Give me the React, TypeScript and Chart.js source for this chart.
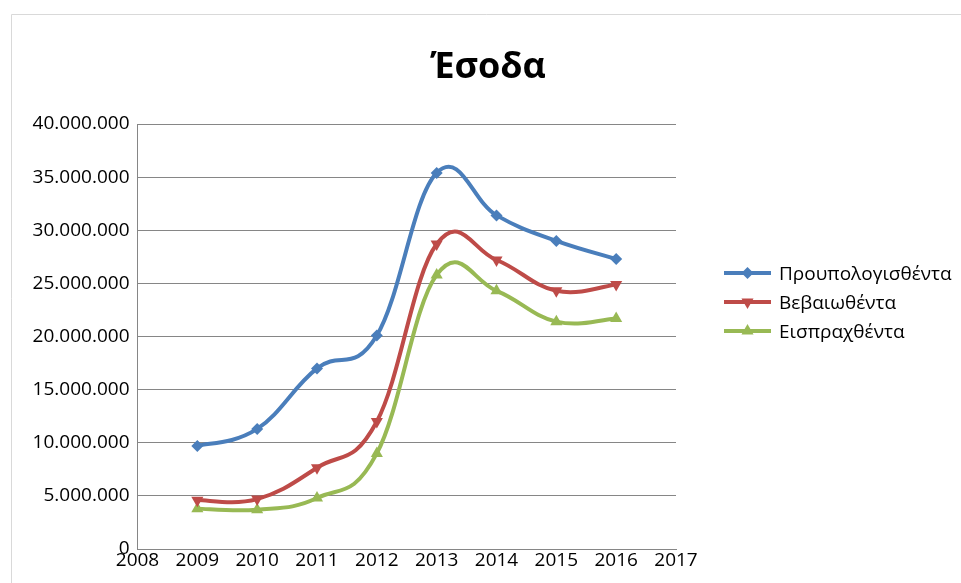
import React, { useEffect, useRef } from "react";
import { Chart, registerables } from "chart.js";

Chart.register(...registerables);

const title = "Έσοδα";
const years = [2009, 2010, 2011, 2012, 2013, 2014, 2015, 2016];
const seriesNames = ["Προυπολογισθέντα", "Βεβαιωθέντα", "Εισπραχθέντα"];
const budgeted = [9700000, 11300000, 17000000, 20100000, 35400000, 31400000, 29000000, 27300000];
const certified = [4600000, 4700000, 7650000, 12000000, 28700000, 27200000, 24300000, 24900000];
const collected = [3800000, 3700000, 4800000, 9000000, 25800000, 24300000, 21400000, 21700000];
const xMin = 2008;
const xMax = 2017;
const yMin = 0;
const yMax = 40000000;
const yStep = 5000000;

const colors = ["#4A7EBB", "#BE4B48", "#98B954"];
const styles = ["rectRot", "triangle", "triangle"];
const rotations = [0, 180, 0];
const radii = [6, 7, 7];
const SMOOTH = 0.2;

const FONT = "'Open Sans', 'Noto Sans', 'DejaVu Sans', sans-serif";

function fmt(v: number): string {
  return String(Math.round(v)).replace(/\B(?=(\d{3})+(?!\d))/g, ".");
}

function drawMarker(ctx: CanvasRenderingContext2D, kind: number, x: number, y: number, color: string) {
  ctx.save();
  ctx.fillStyle = color;
  ctx.beginPath();
  if (kind === 0) {
    const r = 6;
    ctx.moveTo(x, y - r);
    ctx.lineTo(x + r, y);
    ctx.lineTo(x, y + r);
    ctx.lineTo(x - r, y);
  } else {
    const r = 7;
    const dir = kind === 1 ? 1 : -1;
    ctx.moveTo(x, y + dir * r);
    ctx.lineTo(x + r * Math.sin(Math.PI / 3), y - dir * r * 0.5);
    ctx.lineTo(x - r * Math.sin(Math.PI / 3), y - dir * r * 0.5);
  }
  ctx.closePath();
  ctx.fill();
  ctx.restore();
}

// Excel-like smoothing: uniform Catmull-Rom style control points
const smoothPlugin = {
  id: "excelSmooth",
  beforeDatasetsDraw(chart: any) {
    chart.data.datasets.forEach((_: any, di: number) => {
      const meta = chart.getDatasetMeta(di);
      const pts = meta.data;
      const n = pts.length;
      for (let i = 0; i < n; i++) {
        const p = pts[i];
        const prev = pts[Math.max(0, i - 1)];
        const next = pts[Math.min(n - 1, i + 1)];
        const dx = next.x - prev.x;
        const dy = next.y - prev.y;
        p.cp1x = p.x - SMOOTH * dx;
        p.cp1y = p.y - SMOOTH * dy;
        p.cp2x = p.x + SMOOTH * dx;
        p.cp2y = p.y + SMOOTH * dy;
      }
      if (meta.dataset) {
        meta.dataset._pointsUpdated = true;
        delete meta.dataset._path;
      }
    });
  },
};

const decorPlugin = {
  id: "decor",
  beforeDraw(chart: any) {
    const ctx = chart.ctx as CanvasRenderingContext2D;
    ctx.save();
    ctx.strokeStyle = "#d9d9d9";
    ctx.lineWidth = 1;
    ctx.beginPath();
    ctx.moveTo(11.5, chart.height);
    ctx.lineTo(11.5, 14.5);
    ctx.lineTo(chart.width, 14.5);
    ctx.stroke();
    ctx.restore();
  },
  afterDraw(chart: any) {
    const ctx = chart.ctx as CanvasRenderingContext2D;
    ctx.save();
    ctx.fillStyle = "#000";
    ctx.font = `bold 36px ${FONT}`;
    ctx.textAlign = "center";
    ctx.textBaseline = "alphabetic";
    ctx.fillText(title, 488, 78);

    const rows = [273, 302, 331];
    ctx.font = `19px ${FONT}`;
    ctx.textAlign = "left";
    seriesNames.forEach((name, i) => {
      const y = rows[i];
      ctx.strokeStyle = colors[i];
      ctx.lineWidth = 4;
      ctx.beginPath();
      ctx.moveTo(724, y);
      ctx.lineTo(771, y);
      ctx.stroke();
      drawMarker(ctx, i, 747.5, y, colors[i]);
      ctx.fillStyle = "#000";
      ctx.fillText(name, 779, y + 7);
    });
    ctx.restore();
  },
};

export default function App() {
  const ref = useRef<HTMLCanvasElement | null>(null);

  useEffect(() => {
    if (!ref.current) return;
    const series = [budgeted, certified, collected];
    const chart = new Chart(ref.current, {
      type: "scatter",
      data: {
        datasets: series.map((vals, i) => ({
          label: seriesNames[i],
          data: years.map((x, j) => ({ x, y: vals[j] })),
          showLine: true,
          borderColor: colors[i],
          backgroundColor: colors[i],
          borderWidth: 4,
          tension: 0.5,
          pointStyle: styles[i] as any,
          pointRotation: rotations[i],
          pointRadius: radii[i],
          pointBorderWidth: 0,
          pointBackgroundColor: colors[i],
          fill: false,
        })),
      },
      plugins: [smoothPlugin, decorPlugin],
      options: {
        animation: false,
        responsive: false,
        maintainAspectRatio: false,
        layout: { padding: { left: 0, right: 285, top: 124, bottom: 0 } },
        plugins: {
          legend: { display: false },
          title: { display: false },
          tooltip: { enabled: false },
        },
        scales: {
          x: {
            type: "linear",
            min: xMin,
            max: xMax,
            afterFit: (s: any) => {
              s.height = 34;
            },
            ticks: {
              stepSize: 1,
              padding: 0,
              color: "#000",
              font: { family: FONT, size: 19 },
              callback: (v: any) => String(v),
              maxRotation: 0,
              autoSkip: false,
            },
            grid: { display: false, drawTicks: false },
            border: { display: true, color: "#868686", width: 1 },
          },
          y: {
            type: "linear",
            min: yMin,
            max: yMax,
            afterFit: (s: any) => {
              s.width = 137.5;
            },
            ticks: {
              stepSize: yStep,
              padding: 8,
              color: "#000",
              font: { family: FONT, size: 19 },
              callback: (v: any) => fmt(Number(v)),
            },
            grid: { display: true, drawTicks: false, color: "#868686", lineWidth: 1 },
            border: { display: true, color: "#868686", width: 1 },
          },
        },
      },
    });
    return () => chart.destroy();
  }, []);

  return (
    <div style={{ position: "fixed", left: 0, top: 0, width: 961, height: 583, background: "#fff" }}>
      <canvas ref={ref} width={961} height={583} style={{ display: "block", width: 961, height: 583 }} />
    </div>
  );
}
